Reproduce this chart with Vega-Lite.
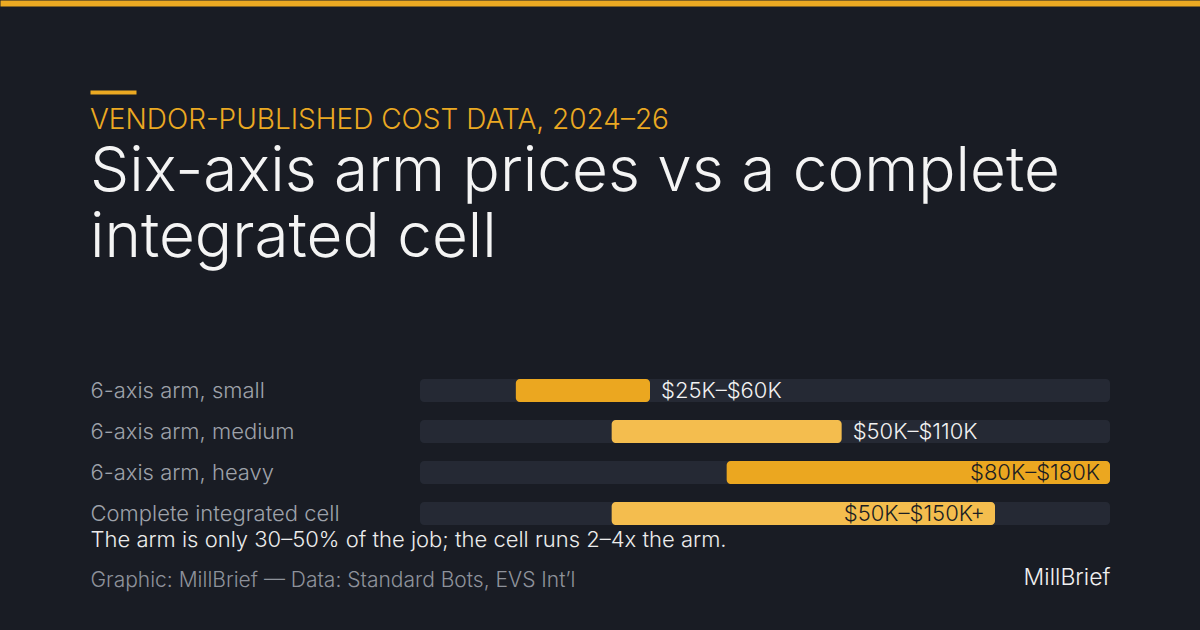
{
  "$schema": "https://vega.github.io/schema/vega-lite/v6.json",
  "width": 1020,
  "height": 164,
  "autosize": {"type": "none"},
  "padding": {"left": 90, "top": 370, "right": 90, "bottom": 96},
  "background": "#191c24",
  "config": {"view": {"stroke": null}, "font": "Inter"},
  "title": {
    "text": "VENDOR-PUBLISHED COST DATA, 2024–26",
    "subtitle": ["Six-axis arm prices vs a complete", "integrated cell"],
    "anchor": "start",
    "frame": "group",
    "baseline": "top",
    "font": "Inter",
    "fontSize": 28,
    "fontWeight": 300,
    "color": "#eba922",
    "subtitleFont": "Inter",
    "subtitleFontSize": 62,
    "subtitleFontWeight": 300,
    "subtitleColor": "#f4f4f4",
    "subtitleLineHeight": 66,
    "subtitlePadding": 7,
    "offset": -266
  },
  "data": {
    "values": [
      {"item": "6-axis arm, small", "low": 25, "high": 60, "range": "$25K–$60K"},
      {"item": "6-axis arm, medium", "low": 50, "high": 110, "range": "$50K–$110K"},
      {"item": "6-axis arm, heavy", "low": 80, "high": 180, "range": "$80K–$180K"},
      {"item": "Complete integrated cell", "low": 50, "high": 150, "range": "$50K–$150K+"}
    ]
  },
  "layer": [
    {
      "mark": {"type": "bar", "color": "#252934", "cornerRadius": 4},
      "encoding": {
        "y": {
          "field": "item", "type": "nominal", "sort": null,
          "scale": {"paddingInner": 0.44, "paddingOuter": 0.22},
          "axis": {
            "title": null, "domain": false, "ticks": false, "tickSize": 0,
            "labelAlign": "left", "labelPadding": 0, "labelBaseline": "middle",
            "labelFont": "Inter", "labelFontSize": 22, "labelFontWeight": 300,
            "labelColor": "#9ea2aa", "labelLimit": 400
          }
        },
        "x": {
          "datum": 0, "type": "quantitative",
          "scale": {"domain": [0, 180], "range": [330, 1020]},
          "axis": null
        },
        "x2": {"datum": 180}
      }
    },
    {
      "mark": {"type": "bar", "cornerRadius": 4},
      "encoding": {
        "y": {"field": "item", "type": "nominal", "sort": null},
        "x": {
          "field": "low", "type": "quantitative",
          "scale": {"domain": [0, 180], "range": [330, 1020]},
          "axis": {
            "orient": "bottom", "domain": false, "ticks": false, "labels": false, "grid": false,
            "title": "The arm is only 30–50% of the job; the cell runs 2–4x the arm.",
            "titleX": 0, "titleY": 12, "titleAlign": "left", "titleAnchor": "start",
            "titleBaseline": "alphabetic", "titleFont": "Inter", "titleFontSize": 22,
            "titleFontWeight": 300, "titleColor": "#ececec"
          }
        },
        "x2": {"field": "high"},
        "color": {
          "field": "item", "type": "nominal", "sort": null, "legend": null,
          "scale": {
            "domain": ["6-axis arm, small", "6-axis arm, medium", "6-axis arm, heavy", "Complete integrated cell"],
            "range": ["#eba720", "#f4bd4e", "#eba720", "#f4bd4e"]
          }
        }
      }
    },
    {
      "transform": [{"filter": "datum.high < 150"}],
      "mark": {"type": "text", "align": "left", "baseline": "middle", "dx": 11, "font": "Inter", "fontSize": 22, "fontWeight": 300, "color": "#f2f2f2"},
      "encoding": {
        "y": {"field": "item", "type": "nominal", "sort": null},
        "x": {"field": "high", "type": "quantitative", "scale": {"domain": [0, 180], "range": [330, 1020]}, "axis": null},
        "text": {"field": "range"}
      }
    },
    {
      "transform": [{"filter": "datum.high >= 150"}],
      "mark": {"type": "text", "align": "right", "baseline": "middle", "dx": -10, "font": "Inter", "fontSize": 22, "fontWeight": 300, "color": "#1b1d23"},
      "encoding": {
        "y": {"field": "item", "type": "nominal", "sort": null},
        "x": {"field": "high", "type": "quantitative", "scale": {"domain": [0, 180], "range": [330, 1020]}, "axis": null},
        "text": {"field": "range"}
      }
    },
    {
      "mark": {"type": "point", "opacity": 0},
      "encoding": {
        "x": {
          "field": "low", "type": "quantitative",
          "scale": {"domain": [0, 1], "range": [-90, 1110]},
          "axis": {
            "orient": "top", "offset": 367, "domain": true, "domainColor": "#eba922",
            "domainWidth": 6, "domainCap": "butt", "ticks": false, "labels": false, "grid": false,
            "title": "Graphic: MillBrief — Data: Standard Bots, EVS Int’l",
            "titleX": 0, "titleY": 583, "titleAlign": "left", "titleAnchor": "start",
            "titleBaseline": "alphabetic", "titleFont": "Inter", "titleFontSize": 21,
            "titleFontWeight": 300, "titleColor": "#8e929b"
          }
        }
      }
    },
    {
      "mark": {"type": "point", "opacity": 0},
      "encoding": {
        "x": {
          "field": "low", "type": "quantitative",
          "scale": {"domain": [0, 1], "range": [0, 46]},
          "axis": {
            "orient": "top", "offset": 278, "domain": true, "domainColor": "#eba922",
            "domainWidth": 4, "domainCap": "butt", "ticks": false, "labels": false, "grid": false,
            "title": "MillBrief",
            "titleX": 1020, "titleY": 492, "titleAlign": "right", "titleAnchor": "end",
            "titleBaseline": "alphabetic", "titleFont": "Inter", "titleFontSize": 23,
            "titleFontWeight": 300, "titleColor": "#f0f0f0"
          }
        }
      }
    }
  ],
  "resolve": {"scale": {"x": "independent"}, "axis": {"x": "independent"}}
}
